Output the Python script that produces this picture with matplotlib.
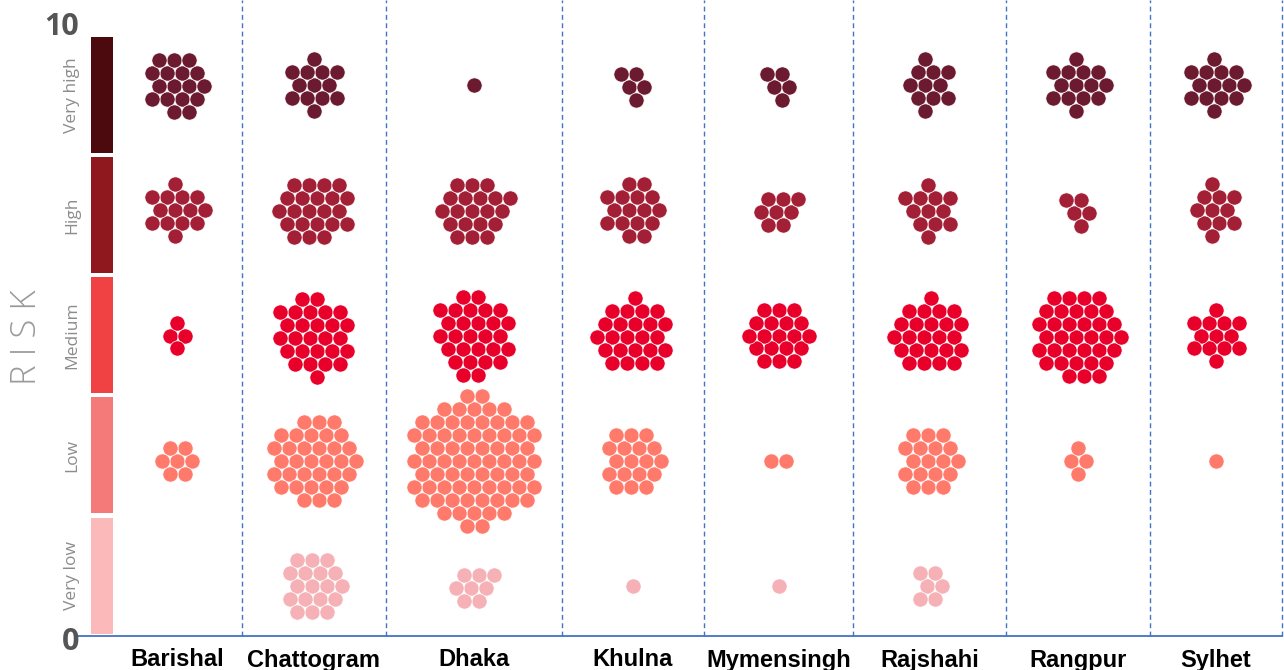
import numpy as np
import matplotlib
matplotlib.use("Agg")
import matplotlib.pyplot as plt

# ---------------- data ----------------
divisions = ["Barishal", "Chattogram", "Dhaka", "Khulna", "Mymensingh",
             "Rajshahi", "Rangpur", "Sylhet"]
levels = ["Very low", "Low", "Medium", "High", "Very high"]
very_high = [17, 13, 1, 5, 5, 11, 14, 14]
high = [14, 22, 20, 16, 8, 12, 5, 11]
medium = [4, 27, 28, 24, 19, 24, 35, 13]
low = [7, 34, 73, 18, 2, 18, 4, 1]
very_low = [0, 18, 8, 1, 1, 6, 0, 0]
counts = [very_low, low, medium, high, very_high]

dot_colors = ["#f5b1b5", "#ff7a6b", "#e8002b", "#a21f36", "#6b1a30"]
bar_colors = ["#fbb9b9", "#f47a7a", "#f04242", "#8f181e", "#4d0a0e"]

# ---------------- layout ----------------
W, H = 1284, 670
fig = plt.figure(figsize=(W / 100, H / 100), dpi=100)
fig.patch.set_facecolor("white")

ax_left_px, ax_right_px = 112, 1282
base_px = 636          # y pixel of risk = 0
top_px = 35            # y pixel of risk = 10
ppu = (base_px - top_px) / 10.0   # pixels per risk unit
ymax = base_px / ppu

ax = fig.add_axes([ax_left_px / W, (H - base_px) / H,
                   (ax_right_px - ax_left_px) / W, base_px / H])
ax.set_xlim(0, ax_right_px - ax_left_px)
ax.set_ylim(0, ymax)
for s in ax.spines.values():
    s.set_visible(False)
ax.set_yticks([])

col_edges = np.array([0, 130, 274, 450, 592, 741, 894, 1038, 1170])
col_centers = (col_edges[:-1] + col_edges[1:]) / 2
level_centers = 0.83 + 2.085 * np.arange(5)

spacing = 15.0
diam_px = 15.2


def hex_cluster(n):
    if n == 0:
        return np.zeros((0, 2))
    R = int(np.ceil(np.sqrt(n))) + 3
    pts = []
    for r in range(-R, R + 1):
        for c in range(-R, R + 1):
            x = (c + 0.5 * (r % 2)) * spacing
            y = r * spacing * np.sqrt(3) / 2
            pts.append((x, y))
    pts = np.array(pts)
    d = np.hypot(pts[:, 0] - 0.31, pts[:, 1] - 0.17)
    sel = pts[np.argsort(d, kind="stable")[:n]]
    return sel - sel.mean(axis=0)


size_pt = (diam_px * 72 / 100) ** 2
for k in range(5):
    for j, n in enumerate(counts[k]):
        pts = hex_cluster(n)
        if len(pts) == 0:
            continue
        xs = col_centers[j] + pts[:, 0]
        ys = level_centers[k] + pts[:, 1] / ppu
        ax.scatter(xs, ys, s=size_pt, color=dot_colors[k],
                   edgecolors="white", linewidths=0.5, zorder=3)

# separators
blue = "#4472c4"
for e in col_edges[1:]:
    ax.plot([e, e], [0, ymax], color=blue, lw=1.0,
            ls=(0, (3.5, 2.5)), clip_on=False, zorder=1)
# baseline
ax.plot([77 - ax_left_px, col_edges[-1]], [0, 0], color=blue, lw=1.3,
        clip_on=False, zorder=2)

ax.set_xticks(col_centers)
ax.set_xticklabels(divisions, fontsize=17, fontweight="bold",
                   family=["Liberation Sans", "DejaVu Sans"], color="black")
ax.tick_params(axis="x", length=0, pad=9)

# ---------------- legend / risk scale ----------------
axl = fig.add_axes([0, (H - base_px) / H, ax_left_px / W, base_px / H])
axl.set_xlim(0, ax_left_px)
axl.set_ylim(0, ymax)
axl.axis("off")
for k in range(5):
    axl.bar(91, 1.93, bottom=2 * k + 0.04, width=22, align="edge",
            color=bar_colors[k], edgecolor="none", clip_on=False)
    axl.text(72, 2 * k + 1, levels[k], rotation=90, ha="center",
             va="center", fontsize=12.5, color="#8c8c8c",
             family=["Open Sans", "DejaVu Sans"])

axl.text(62, 10.0, "10", ha="center", va="baseline", fontsize=22,
         fontweight="bold", color="#555555",
         family=["Open Sans", "DejaVu Sans"])
axl.text(71, -0.24, "0", ha="center", va="baseline", fontsize=22,
         fontweight="bold", color="#555555",
         family=["Open Sans", "DejaVu Sans"], clip_on=False)
axl.text(27, (base_px - 337) / ppu, "R I S K", rotation=90, ha="center",
         va="center", fontsize=25, color="#9a9a9a",
         family=["Open Sans", "DejaVu Sans"], fontweight="light")

fig.savefig("out.png", dpi=100, facecolor="white")
